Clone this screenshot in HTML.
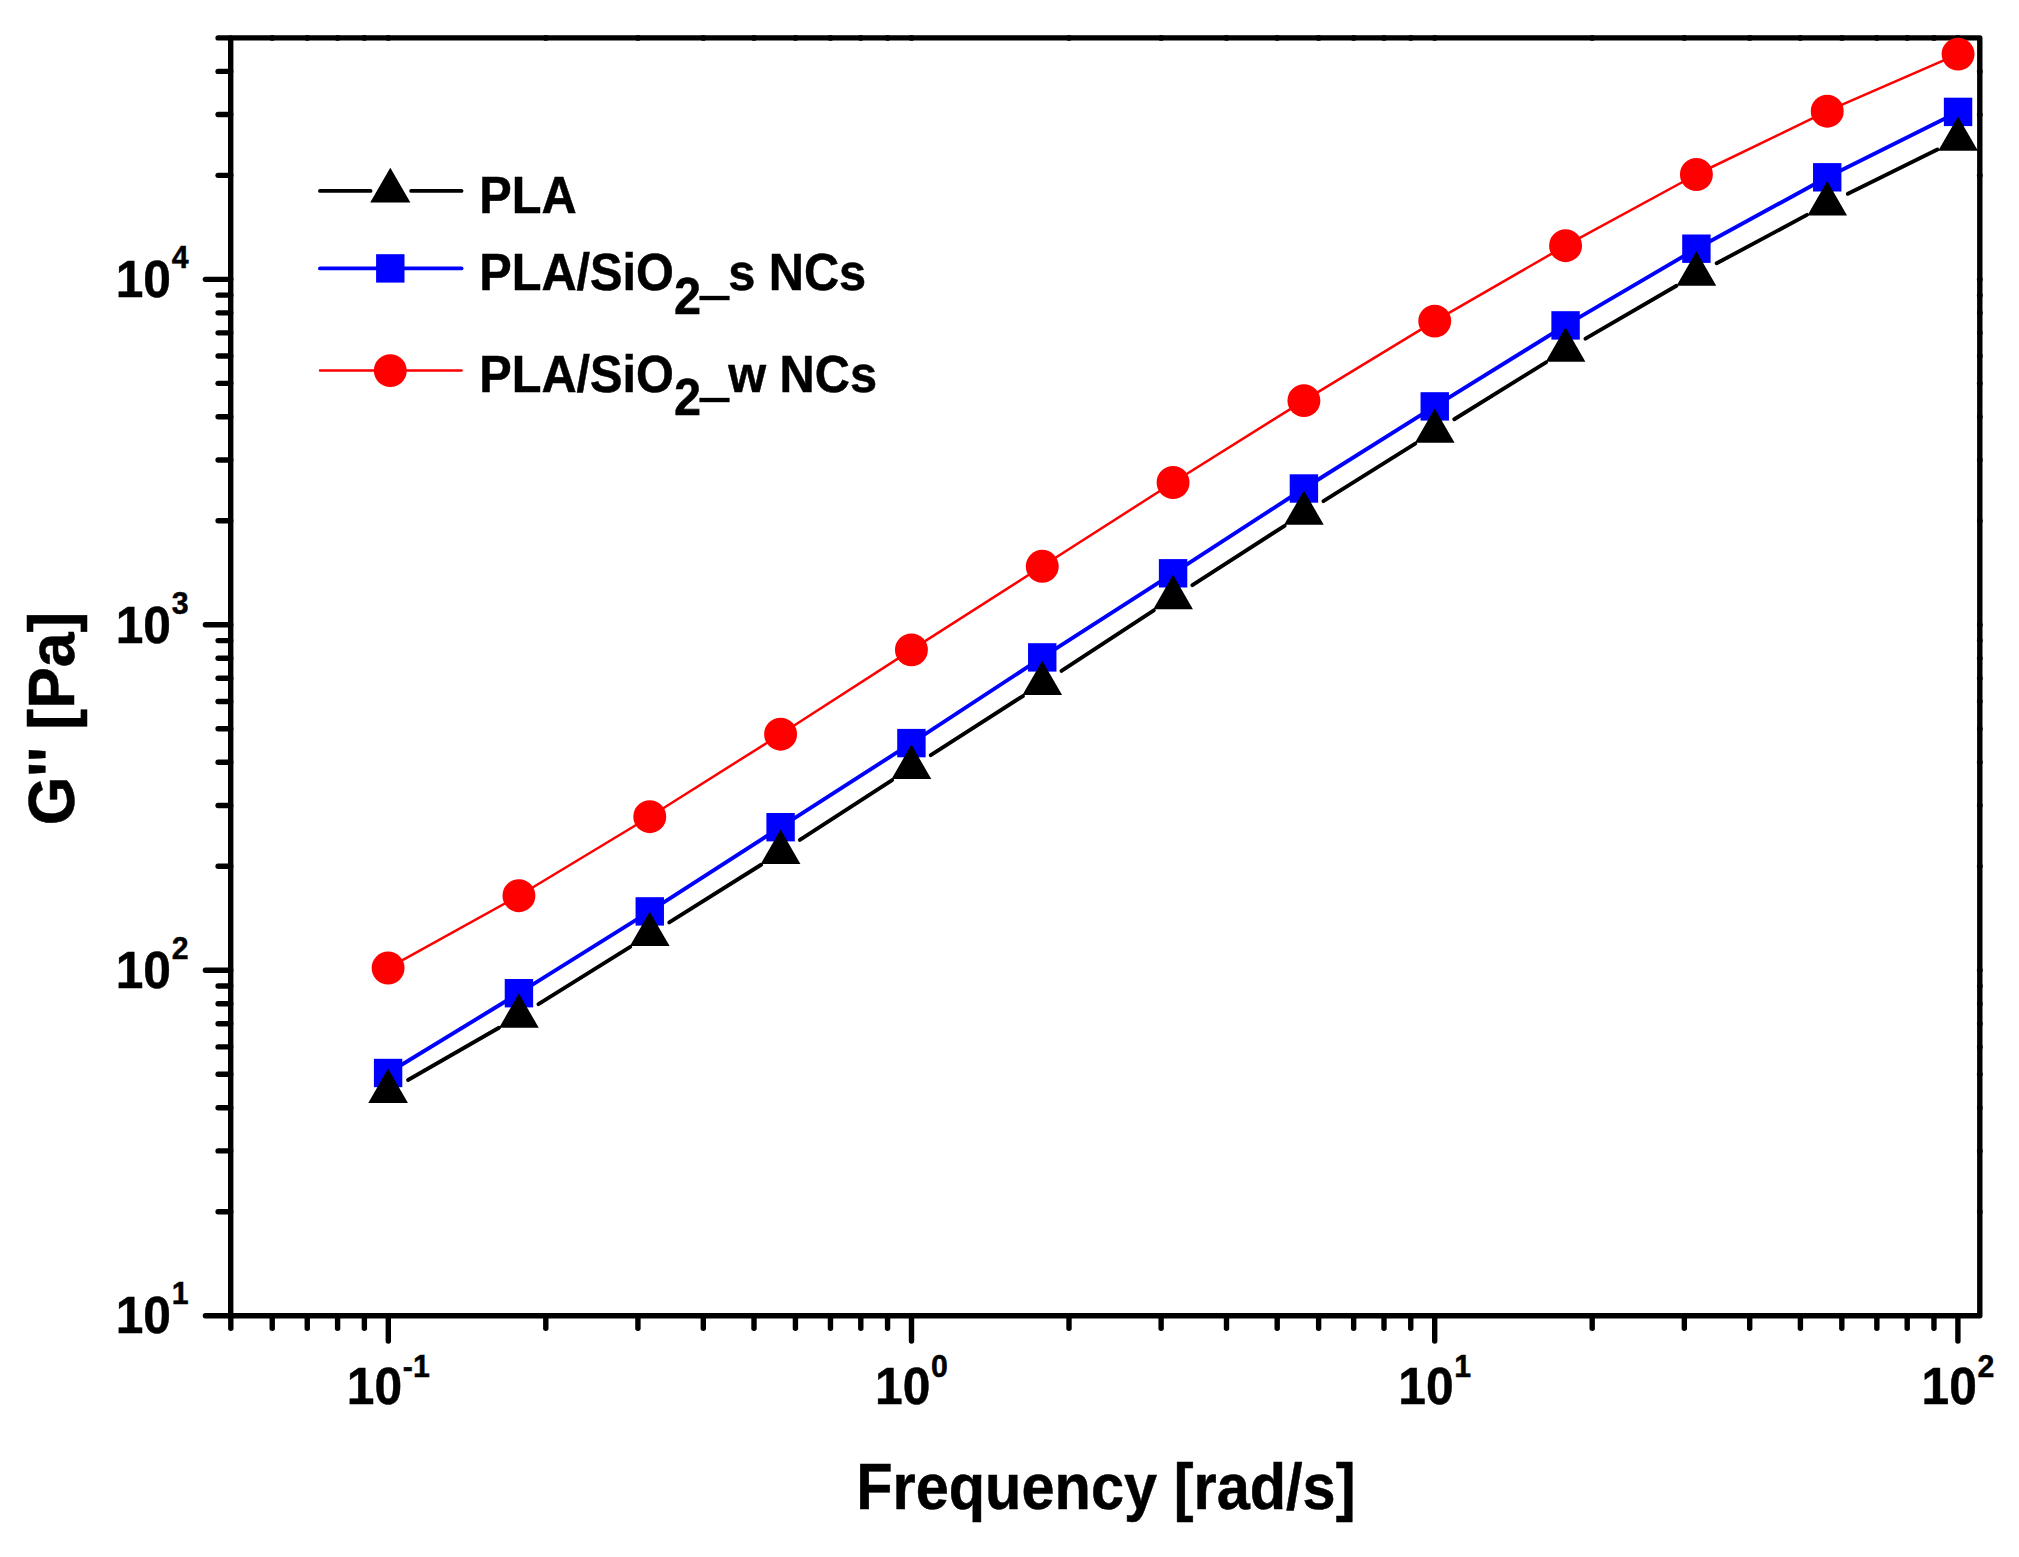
<!DOCTYPE html>
<html lang="en"><head><meta charset="utf-8"><title>G&quot; vs Frequency</title>
<style>html,body{margin:0;padding:0;background:#fff}svg{display:block}text{font-family:"Liberation Sans",sans-serif;font-weight:bold;fill:#000;stroke:#000;stroke-width:0.5px}</style>
</head><body>
<svg width="2019" height="1557" viewBox="0 0 2019 1557">
<rect x="0" y="0" width="2019" height="1557" fill="#fff"/>
<g stroke="#000" stroke-width="5.4" stroke-linecap="round" fill="none">
<line x1="230.80" y1="1315.7" x2="230.80" y2="1328.30"/>
<line x1="272.23" y1="1315.7" x2="272.23" y2="1328.30"/>
<line x1="307.26" y1="1315.7" x2="307.26" y2="1328.30"/>
<line x1="337.60" y1="1315.7" x2="337.60" y2="1328.30"/>
<line x1="364.36" y1="1315.7" x2="364.36" y2="1328.30"/>
<line x1="388.30" y1="1315.7" x2="388.30" y2="1341.00"/>
<line x1="545.80" y1="1315.7" x2="545.80" y2="1328.30"/>
<line x1="637.93" y1="1315.7" x2="637.93" y2="1328.30"/>
<line x1="703.30" y1="1315.7" x2="703.30" y2="1328.30"/>
<line x1="754.00" y1="1315.7" x2="754.00" y2="1328.30"/>
<line x1="795.43" y1="1315.7" x2="795.43" y2="1328.30"/>
<line x1="830.46" y1="1315.7" x2="830.46" y2="1328.30"/>
<line x1="860.80" y1="1315.7" x2="860.80" y2="1328.30"/>
<line x1="887.56" y1="1315.7" x2="887.56" y2="1328.30"/>
<line x1="911.50" y1="1315.7" x2="911.50" y2="1341.00"/>
<line x1="1069.00" y1="1315.7" x2="1069.00" y2="1328.30"/>
<line x1="1161.13" y1="1315.7" x2="1161.13" y2="1328.30"/>
<line x1="1226.50" y1="1315.7" x2="1226.50" y2="1328.30"/>
<line x1="1277.20" y1="1315.7" x2="1277.20" y2="1328.30"/>
<line x1="1318.63" y1="1315.7" x2="1318.63" y2="1328.30"/>
<line x1="1353.66" y1="1315.7" x2="1353.66" y2="1328.30"/>
<line x1="1384.00" y1="1315.7" x2="1384.00" y2="1328.30"/>
<line x1="1410.76" y1="1315.7" x2="1410.76" y2="1328.30"/>
<line x1="1434.70" y1="1315.7" x2="1434.70" y2="1341.00"/>
<line x1="1592.20" y1="1315.7" x2="1592.20" y2="1328.30"/>
<line x1="1684.33" y1="1315.7" x2="1684.33" y2="1328.30"/>
<line x1="1749.70" y1="1315.7" x2="1749.70" y2="1328.30"/>
<line x1="1800.40" y1="1315.7" x2="1800.40" y2="1328.30"/>
<line x1="1841.83" y1="1315.7" x2="1841.83" y2="1328.30"/>
<line x1="1876.86" y1="1315.7" x2="1876.86" y2="1328.30"/>
<line x1="1907.20" y1="1315.7" x2="1907.20" y2="1328.30"/>
<line x1="1933.96" y1="1315.7" x2="1933.96" y2="1328.30"/>
<line x1="1957.90" y1="1315.7" x2="1957.90" y2="1341.00"/>
<line x1="230.7" y1="1315.70" x2="205.40" y2="1315.70"/>
<line x1="230.7" y1="1211.71" x2="218.10" y2="1211.71"/>
<line x1="230.7" y1="1150.88" x2="218.10" y2="1150.88"/>
<line x1="230.7" y1="1107.72" x2="218.10" y2="1107.72"/>
<line x1="230.7" y1="1074.24" x2="218.10" y2="1074.24"/>
<line x1="230.7" y1="1046.89" x2="218.10" y2="1046.89"/>
<line x1="230.7" y1="1023.76" x2="218.10" y2="1023.76"/>
<line x1="230.7" y1="1003.73" x2="218.10" y2="1003.73"/>
<line x1="230.7" y1="986.06" x2="218.10" y2="986.06"/>
<line x1="230.7" y1="970.25" x2="205.40" y2="970.25"/>
<line x1="230.7" y1="866.26" x2="218.10" y2="866.26"/>
<line x1="230.7" y1="805.43" x2="218.10" y2="805.43"/>
<line x1="230.7" y1="762.27" x2="218.10" y2="762.27"/>
<line x1="230.7" y1="728.80" x2="218.10" y2="728.80"/>
<line x1="230.7" y1="701.44" x2="218.10" y2="701.44"/>
<line x1="230.7" y1="678.32" x2="218.10" y2="678.32"/>
<line x1="230.7" y1="658.28" x2="218.10" y2="658.28"/>
<line x1="230.7" y1="640.61" x2="218.10" y2="640.61"/>
<line x1="230.7" y1="624.80" x2="205.40" y2="624.80"/>
<line x1="230.7" y1="520.81" x2="218.10" y2="520.81"/>
<line x1="230.7" y1="459.98" x2="218.10" y2="459.98"/>
<line x1="230.7" y1="416.82" x2="218.10" y2="416.82"/>
<line x1="230.7" y1="383.35" x2="218.10" y2="383.35"/>
<line x1="230.7" y1="355.99" x2="218.10" y2="355.99"/>
<line x1="230.7" y1="332.87" x2="218.10" y2="332.87"/>
<line x1="230.7" y1="312.83" x2="218.10" y2="312.83"/>
<line x1="230.7" y1="295.16" x2="218.10" y2="295.16"/>
<line x1="230.7" y1="279.36" x2="205.40" y2="279.36"/>
<line x1="230.7" y1="175.37" x2="218.10" y2="175.37"/>
<line x1="230.7" y1="114.54" x2="218.10" y2="114.54"/>
<line x1="230.7" y1="71.38" x2="218.10" y2="71.38"/>
<line x1="230.7" y1="37.90" x2="218.10" y2="37.90"/>
</g>
<g fill="#000">
<circle cx="272.23" cy="37.9" r="2.9"/>
<circle cx="307.26" cy="37.9" r="2.9"/>
<circle cx="337.60" cy="37.9" r="2.9"/>
<circle cx="364.36" cy="37.9" r="2.9"/>
<circle cx="388.30" cy="37.9" r="2.9"/>
<circle cx="545.80" cy="37.9" r="2.9"/>
<circle cx="637.93" cy="37.9" r="2.9"/>
<circle cx="703.30" cy="37.9" r="2.9"/>
<circle cx="754.00" cy="37.9" r="2.9"/>
<circle cx="795.43" cy="37.9" r="2.9"/>
<circle cx="830.46" cy="37.9" r="2.9"/>
<circle cx="860.80" cy="37.9" r="2.9"/>
<circle cx="887.56" cy="37.9" r="2.9"/>
<circle cx="911.50" cy="37.9" r="2.9"/>
<circle cx="1069.00" cy="37.9" r="2.9"/>
<circle cx="1161.13" cy="37.9" r="2.9"/>
<circle cx="1226.50" cy="37.9" r="2.9"/>
<circle cx="1277.20" cy="37.9" r="2.9"/>
<circle cx="1318.63" cy="37.9" r="2.9"/>
<circle cx="1353.66" cy="37.9" r="2.9"/>
<circle cx="1384.00" cy="37.9" r="2.9"/>
<circle cx="1410.76" cy="37.9" r="2.9"/>
<circle cx="1434.70" cy="37.9" r="2.9"/>
<circle cx="1592.20" cy="37.9" r="2.9"/>
<circle cx="1684.33" cy="37.9" r="2.9"/>
<circle cx="1749.70" cy="37.9" r="2.9"/>
<circle cx="1800.40" cy="37.9" r="2.9"/>
<circle cx="1841.83" cy="37.9" r="2.9"/>
<circle cx="1876.86" cy="37.9" r="2.9"/>
<circle cx="1907.20" cy="37.9" r="2.9"/>
<circle cx="1933.96" cy="37.9" r="2.9"/>
<circle cx="1957.90" cy="37.9" r="2.9"/>
<circle cx="1979.8" cy="1211.71" r="2.9"/>
<circle cx="1979.8" cy="1150.88" r="2.9"/>
<circle cx="1979.8" cy="1107.72" r="2.9"/>
<circle cx="1979.8" cy="1074.24" r="2.9"/>
<circle cx="1979.8" cy="1046.89" r="2.9"/>
<circle cx="1979.8" cy="1023.76" r="2.9"/>
<circle cx="1979.8" cy="1003.73" r="2.9"/>
<circle cx="1979.8" cy="986.06" r="2.9"/>
<circle cx="1979.8" cy="970.25" r="2.9"/>
<circle cx="1979.8" cy="866.26" r="2.9"/>
<circle cx="1979.8" cy="805.43" r="2.9"/>
<circle cx="1979.8" cy="762.27" r="2.9"/>
<circle cx="1979.8" cy="728.80" r="2.9"/>
<circle cx="1979.8" cy="701.44" r="2.9"/>
<circle cx="1979.8" cy="678.32" r="2.9"/>
<circle cx="1979.8" cy="658.28" r="2.9"/>
<circle cx="1979.8" cy="640.61" r="2.9"/>
<circle cx="1979.8" cy="624.80" r="2.9"/>
<circle cx="1979.8" cy="520.81" r="2.9"/>
<circle cx="1979.8" cy="459.98" r="2.9"/>
<circle cx="1979.8" cy="416.82" r="2.9"/>
<circle cx="1979.8" cy="383.35" r="2.9"/>
<circle cx="1979.8" cy="355.99" r="2.9"/>
<circle cx="1979.8" cy="332.87" r="2.9"/>
<circle cx="1979.8" cy="312.83" r="2.9"/>
<circle cx="1979.8" cy="295.16" r="2.9"/>
<circle cx="1979.8" cy="279.36" r="2.9"/>
<circle cx="1979.8" cy="175.37" r="2.9"/>
<circle cx="1979.8" cy="114.54" r="2.9"/>
<circle cx="1979.8" cy="71.38" r="2.9"/>
</g>
<rect x="230.7" y="37.9" width="1749.10" height="1277.80" fill="none" stroke="#000" stroke-width="5.4" stroke-linejoin="round"/>
<polyline points="388.10,968.05 518.93,895.70 649.76,816.70 780.59,734.20 911.42,649.90 1042.25,566.30 1173.08,482.50 1303.91,400.60 1434.74,321.10 1565.57,245.70 1696.40,174.50 1827.23,111.20 1958.06,54.10" fill="none" stroke="#ff0000" stroke-width="2.5" stroke-linejoin="round"/>
<g fill="#ff0000">
<circle cx="388.10" cy="968.05" r="16.45"/>
<circle cx="518.93" cy="895.70" r="16.45"/>
<circle cx="649.76" cy="816.70" r="16.45"/>
<circle cx="780.59" cy="734.20" r="16.45"/>
<circle cx="911.42" cy="649.90" r="16.45"/>
<circle cx="1042.25" cy="566.30" r="16.45"/>
<circle cx="1173.08" cy="482.50" r="16.45"/>
<circle cx="1303.91" cy="400.60" r="16.45"/>
<circle cx="1434.74" cy="321.10" r="16.45"/>
<circle cx="1565.57" cy="245.70" r="16.45"/>
<circle cx="1696.40" cy="174.50" r="16.45"/>
<circle cx="1827.23" cy="111.20" r="16.45"/>
<circle cx="1958.06" cy="54.10" r="16.45"/>
</g>
<polyline points="388.10,1073.00 518.93,993.20 649.76,911.40 780.59,827.20 911.42,743.10 1042.25,657.40 1173.08,573.30 1303.91,488.50 1434.74,406.40 1565.57,325.40 1696.40,248.70 1827.23,177.30 1958.06,111.90" fill="none" stroke="#0000ff" stroke-width="3.9" stroke-linejoin="round"/>
<g fill="#0000ff">
<rect x="373.90" y="1058.80" width="28.4" height="28.4"/>
<rect x="504.73" y="979.00" width="28.4" height="28.4"/>
<rect x="635.56" y="897.20" width="28.4" height="28.4"/>
<rect x="766.39" y="813.00" width="28.4" height="28.4"/>
<rect x="897.22" y="728.90" width="28.4" height="28.4"/>
<rect x="1028.05" y="643.20" width="28.4" height="28.4"/>
<rect x="1158.88" y="559.10" width="28.4" height="28.4"/>
<rect x="1289.71" y="474.30" width="28.4" height="28.4"/>
<rect x="1420.54" y="392.20" width="28.4" height="28.4"/>
<rect x="1551.37" y="311.20" width="28.4" height="28.4"/>
<rect x="1682.20" y="234.50" width="28.4" height="28.4"/>
<rect x="1813.03" y="163.10" width="28.4" height="28.4"/>
<rect x="1943.86" y="97.70" width="28.4" height="28.4"/>
</g>
<g stroke="#000" stroke-width="3.9" stroke-linecap="round">
<line x1="408.04" y1="1080.04" x2="498.99" y2="1027.76"/>
<line x1="538.44" y1="1004.12" x2="630.25" y2="946.78"/>
<line x1="669.24" y1="922.37" x2="761.11" y2="864.73"/>
<line x1="799.88" y1="839.97" x2="892.13" y2="780.03"/>
<line x1="930.78" y1="755.08" x2="1022.89" y2="696.02"/>
<line x1="1061.48" y1="670.98" x2="1153.85" y2="610.32"/>
<line x1="1192.41" y1="585.23" x2="1284.58" y2="525.77"/>
<line x1="1323.41" y1="501.10" x2="1415.24" y2="443.60"/>
<line x1="1454.28" y1="419.27" x2="1546.03" y2="362.33"/>
<line x1="1585.46" y1="338.65" x2="1676.51" y2="285.75"/>
<line x1="1716.67" y1="263.33" x2="1806.96" y2="214.87"/>
<line x1="1847.85" y1="193.82" x2="1937.44" y2="149.58"/>
</g>
<g fill="#000">
<polygon points="388.10,1068.60 407.93,1102.95 368.27,1102.95"/>
<polygon points="518.93,993.40 538.76,1027.75 499.10,1027.75"/>
<polygon points="649.76,911.70 669.59,946.05 629.93,946.05"/>
<polygon points="780.59,829.60 800.42,863.95 760.76,863.95"/>
<polygon points="911.42,744.60 931.25,778.95 891.59,778.95"/>
<polygon points="1042.25,660.70 1062.08,695.05 1022.42,695.05"/>
<polygon points="1173.08,574.80 1192.91,609.15 1153.25,609.15"/>
<polygon points="1303.91,490.40 1323.74,524.75 1284.08,524.75"/>
<polygon points="1434.74,408.50 1454.57,442.85 1414.91,442.85"/>
<polygon points="1565.57,327.30 1585.40,361.65 1545.74,361.65"/>
<polygon points="1696.40,251.30 1716.23,285.65 1676.57,285.65"/>
<polygon points="1827.23,181.10 1847.06,215.45 1807.40,215.45"/>
<polygon points="1958.06,116.50 1977.89,150.85 1938.23,150.85"/>
</g>
<text transform="translate(188.50,1333.40) scale(0.945,1)" text-anchor="end" font-size="52.6">10<tspan font-size="32.0" dx="0.8" dy="-29.0">1</tspan></text>
<text transform="translate(188.50,987.95) scale(0.945,1)" text-anchor="end" font-size="52.6">10<tspan font-size="32.0" dx="0.8" dy="-29.0">2</tspan></text>
<text transform="translate(188.50,642.50) scale(0.945,1)" text-anchor="end" font-size="52.6">10<tspan font-size="32.0" dx="0.8" dy="-29.0">3</tspan></text>
<text transform="translate(188.50,297.06) scale(0.945,1)" text-anchor="end" font-size="52.6">10<tspan font-size="32.0" dx="0.8" dy="-29.0">4</tspan></text>
<text transform="translate(388.30,1404.40) scale(0.945,1)" text-anchor="middle" font-size="52.6">10<tspan font-size="32.0" dx="0.8" dy="-27.7">-1</tspan></text>
<text transform="translate(911.50,1404.40) scale(0.945,1)" text-anchor="middle" font-size="52.6">10<tspan font-size="32.0" dx="0.8" dy="-27.7">0</tspan></text>
<text transform="translate(1434.70,1404.40) scale(0.945,1)" text-anchor="middle" font-size="52.6">10<tspan font-size="32.0" dx="0.8" dy="-27.7">1</tspan></text>
<text transform="translate(1957.90,1404.40) scale(0.945,1)" text-anchor="middle" font-size="52.6">10<tspan font-size="32.0" dx="0.8" dy="-27.7">2</tspan></text>
<text transform="translate(1105.85,1509.30) scale(0.923,1)" text-anchor="middle" font-size="64.5">Frequency [rad/s]</text>
<text transform="translate(73.80,718.50) rotate(-90) scale(0.969,1)" text-anchor="middle" font-size="64.5">G&#39;&#39; [Pa]</text>
<g stroke="#000" stroke-width="3.9" stroke-linecap="round"><line x1="320.0" y1="190.9" x2="370.5" y2="190.9"/><line x1="411.2" y1="190.9" x2="461.5" y2="190.9"/></g>
<polygon points="390.30,167.70 410.39,202.50 370.21,202.50" fill="#000"/>
<text transform="translate(479.20,212.90) scale(0.933,1)" text-anchor="start" font-size="52.2">PLA</text>
<line x1="320.0" y1="268.4" x2="461.5" y2="268.4" stroke="#0000ff" stroke-width="3.9" stroke-linecap="round"/>
<rect x="376.10" y="254.20" width="28.4" height="28.4" fill="#0000ff"/>
<text transform="translate(479.20,289.90) scale(0.933,1)" text-anchor="start" font-size="52.2">PLA/SiO<tspan dy="23.7">2</tspan><tspan dy="-20.7" stroke="#000" stroke-width="2.4">_</tspan><tspan dy="-3.0">s NCs</tspan></text>
<line x1="320.0" y1="370.6" x2="461.5" y2="370.6" stroke="#ff0000" stroke-width="2.5" stroke-linecap="round"/>
<circle cx="390.3" cy="370.6" r="16.45" fill="#ff0000"/>
<text transform="translate(479.20,391.60) scale(0.933,1)" text-anchor="start" font-size="52.2">PLA/SiO<tspan dy="23.7">2</tspan><tspan dy="-20.7" stroke="#000" stroke-width="2.4">_</tspan><tspan dy="-3.0">w NCs</tspan></text>
</svg>
</body></html>
